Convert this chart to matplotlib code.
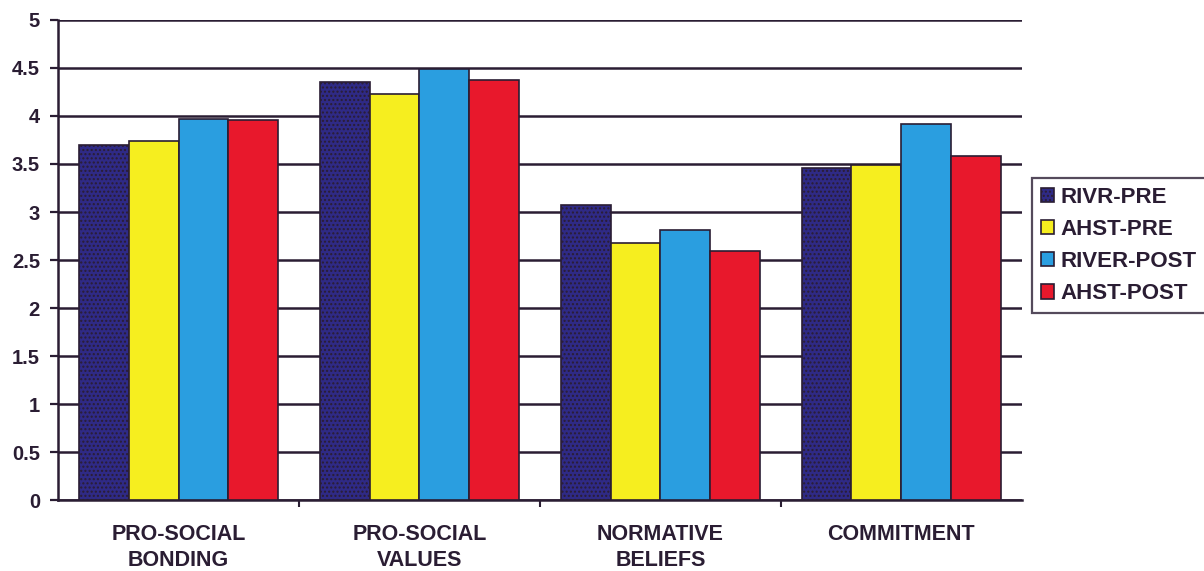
import matplotlib.pyplot as plt
import numpy as np

plt.rcParams["font.family"] = ["Liberation Sans", "DejaVu Sans"]
plt.rcParams["font.weight"] = "bold"
plt.rcParams["hatch.color"] = "#8c86d0"

categories = ["PRO-SOCIAL\nBONDING", "PRO-SOCIAL\nVALUES", "NORMATIVE\nBELIEFS", "COMMITMENT"]
series_names = ["RIVR-PRE", "AHST-PRE", "RIVER-POST", "AHST-POST"]
rivr_pre = [3.70, 4.35, 3.07, 3.46]
ahst_pre = [3.74, 4.23, 2.68, 3.49]
river_post = [3.97, 4.49, 2.81, 3.92]
ahst_post = [3.96, 4.38, 2.59, 3.58]

colors = ["#2f2a86", "#f6ee1f", "#2a9ee0", "#e8182c"]
hatches = ["....", "", "", ""]
ink = "#2a1d33"

fig = plt.figure(figsize=(12.04, 5.71), dpi=100)
ax = fig.add_axes([0.0482, 0.1243, 0.8005, 0.8407])

x = np.arange(len(categories))
width = 0.207
for i, (vals, name) in enumerate(zip([rivr_pre, ahst_pre, river_post, ahst_post], series_names)):
    ax.bar(x + (i - 1.5) * width, vals, width, color=colors[i], edgecolor=ink,
           linewidth=1.2, hatch=hatches[i], label=name, zorder=3)

ax.set_xlim(-0.5, 3.5)
ax.set_ylim(0, 5)
ax.set_yticks(np.arange(0, 5.01, 0.5))
ax.set_yticklabels(["0", "0.5", "1", "1.5", "2", "2.5", "3", "3.5", "4", "4.5", "5"])
ax.yaxis.grid(True, color=ink, linewidth=1.8, zorder=0)
ax.set_xticks(x)
ax.set_xticklabels(categories, fontsize=15.5, fontweight="bold", color=ink, linespacing=1.35)
ax.tick_params(axis="x", length=0, pad=17)
ax.set_xticks(np.arange(0.5, 3.5, 1), minor=True)
ax.tick_params(axis="x", which="minor", length=5, width=1.5, color=ink)
ax.tick_params(axis="y", length=6, width=1.6, color=ink, labelsize=14.5, labelcolor=ink, pad=7)
for lab in ax.get_yticklabels():
    lab.set_fontweight("bold")

for s in ["top", "right"]:
    ax.spines[s].set_visible(False)
for s in ["left", "bottom"]:
    ax.spines[s].set_color(ink)
    ax.spines[s].set_linewidth(1.8)

leg = fig.legend(loc="upper left", bbox_to_anchor=(0.857, 0.688), frameon=True, fancybox=False,
                 edgecolor=ink, handlelength=0.6, handleheight=0.6,
                 handletextpad=0.3, borderpad=0.4, labelspacing=0.5, borderaxespad=0,
                 prop={"weight": "bold", "size": 16})
leg.get_frame().set_linewidth(1.6)
for t in leg.get_texts():
    t.set_color(ink)

fig.savefig("out.png", dpi=100)
